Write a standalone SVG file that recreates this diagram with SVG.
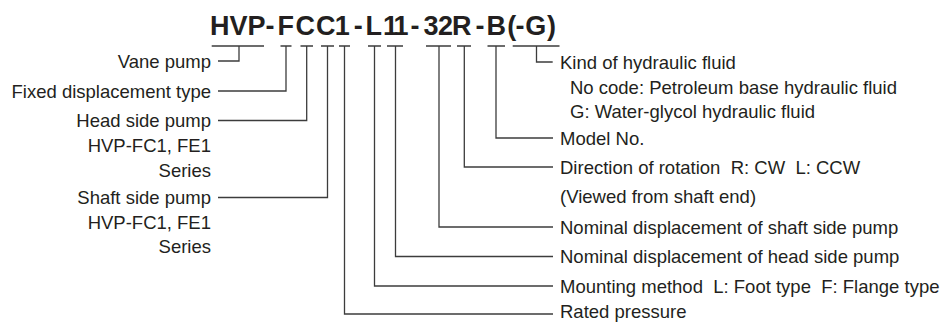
<svg xmlns="http://www.w3.org/2000/svg" width="950" height="322" viewBox="0 0 950 322">
<style>
.t{font-family:"Liberation Sans",Arial,sans-serif;font-size:18.5px;fill:#231f20}
.e{text-anchor:end}
.title{font-family:"Liberation Sans",Arial,sans-serif;font-size:27px;font-weight:bold;fill:#231f20}
.c{fill:none;stroke:#3c3c3c;stroke-width:1.3}
</style>
<rect width="950" height="322" fill="#fff"/>
<g id="title">
<text class="title" y="35" x="210 229.5 247.5 265.5 277.4 295.5 316 334.7 353.8 365.6 383 393.5 410.5 423.4 437.9 452 475.5 486.5 507.2 515.5 525.2 547">HVP-FCC1-L11-32R-B(-G)</text>
</g>
<g id="connectors">
<path class="c" d="M211.7 46H264M239 46V61H218"/>
<path class="c" d="M280.5 46H291.5M286 46V91H218"/>
<path class="c" d="M300.5 46H313M306.7 46V120.5H218"/>
<path class="c" d="M321 46H334M327.5 46V197.5H218"/>
<path class="c" d="M339 46H350M344.5 46V314H553"/>
<path class="c" d="M368 46H381M374.5 46V286H553"/>
<path class="c" d="M387 46H403M395.5 46V256.5H553"/>
<path class="c" d="M426 46H451M439 46V227H553"/>
<path class="c" d="M457 46H471M464.3 46V167H553"/>
<path class="c" d="M487.5 46H505M496 46V138H553"/>
<path class="c" d="M512.7 46H559.5M536.5 46V62H552.7"/>
</g>
<g id="vane-pump"><text class="t e" x="211" y="67.5">Vane pump</text></g>
<g id="fixed-displacement"><text class="t e" x="211" y="97.5">Fixed displacement type</text></g>
<g id="head-side-pump"><text class="t e" x="211" y="127">Head side pump</text><text class="t e" x="211" y="152">HVP-FC1, FE1</text><text class="t e" x="211" y="176.5">Series</text></g>
<g id="shaft-side-pump"><text class="t e" x="211" y="204">Shaft side pump</text><text class="t e" x="211" y="229">HVP-FC1, FE1</text><text class="t e" x="211" y="253">Series</text></g>
<g id="hydraulic-fluid"><text class="t" x="560" y="68.5">Kind of hydraulic fluid</text><text class="t" x="570" y="93.5">No code: Petroleum base hydraulic fluid</text><text class="t" x="570" y="118">G: Water-glycol hydraulic fluid</text></g>
<g id="model-no"><text class="t" x="560" y="144.5">Model No.</text></g>
<g id="rotation"><text class="t" x="560" y="173.5" xml:space="preserve">Direction of rotation  R: CW  L: CCW</text><text class="t" x="560" y="203">(Viewed from shaft end)</text></g>
<g id="shaft-displacement"><text class="t" x="560" y="233.5">Nominal displacement of shaft side pump</text></g>
<g id="head-displacement"><text class="t" x="560" y="263">Nominal displacement of head side pump</text></g>
<g id="mounting"><text class="t" x="560" y="292.5" xml:space="preserve">Mounting method  L: Foot type  F: Flange type</text></g>
<g id="rated-pressure"><text class="t" x="560" y="317.8">Rated pressure</text></g>
</svg>
